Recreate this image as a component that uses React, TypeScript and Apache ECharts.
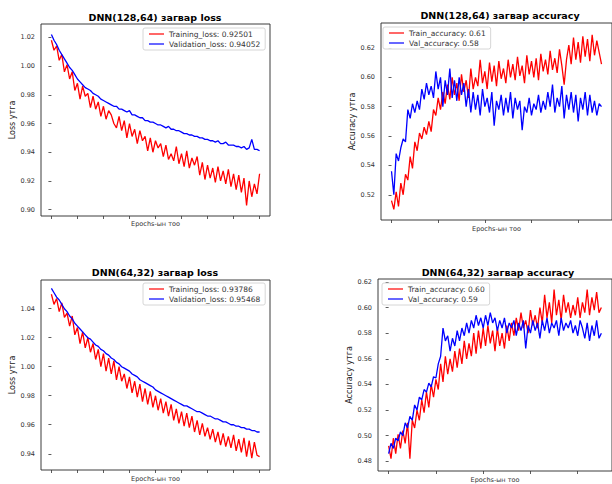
import React, { useEffect, useRef } from "react";
import * as echarts from "echarts";

// ---- Data ----
const trainLoss128 = [
  1.018, 1.011, 1.014, 1.004, 1.008, 0.996, 1.001, 0.991, 0.996, 0.983,
  0.988, 0.977, 0.986, 0.979, 0.981, 0.971, 0.979, 0.970, 0.975, 0.965,
  0.972, 0.963, 0.969, 0.966, 0.960, 0.957, 0.965, 0.955, 0.962, 0.950,
  0.960, 0.951, 0.956, 0.946, 0.955, 0.948, 0.951, 0.941, 0.950, 0.940,
  0.948, 0.943, 0.946, 0.937, 0.945, 0.935, 0.939, 0.934, 0.944, 0.932,
  0.939, 0.930, 0.941, 0.929, 0.936, 0.931, 0.937, 0.924, 0.933, 0.921,
  0.931, 0.922, 0.929, 0.919, 0.930, 0.920, 0.927, 0.918, 0.928, 0.916,
  0.925, 0.914, 0.924, 0.912, 0.922, 0.903, 0.920, 0.909, 0.918, 0.911,
  0.925,
];
const valLoss128 = [
  1.022, 1.018, 1.015, 1.011, 1.008, 1.005, 1.002, 0.999, 0.997, 0.994,
  0.991, 0.989, 0.987, 0.985, 0.984, 0.983, 0.981, 0.980, 0.979, 0.977,
  0.976, 0.975, 0.974, 0.973, 0.972, 0.972, 0.970, 0.970, 0.969, 0.968,
  0.969, 0.966, 0.966, 0.965, 0.964, 0.964, 0.962, 0.962, 0.961, 0.961,
  0.960, 0.959, 0.959, 0.958, 0.957, 0.958, 0.956, 0.956, 0.955, 0.955,
  0.954, 0.953, 0.953, 0.952, 0.952, 0.951, 0.951, 0.950, 0.950, 0.949,
  0.949, 0.948, 0.948, 0.947, 0.948, 0.946, 0.946, 0.947, 0.945, 0.945,
  0.945, 0.944, 0.944, 0.943, 0.944, 0.942, 0.943, 0.949, 0.942, 0.942,
  0.941,
];
const trainAcc128 = [
  0.516, 0.510, 0.522, 0.512, 0.528, 0.520, 0.534, 0.530, 0.546, 0.538,
  0.556, 0.550, 0.562, 0.558, 0.566, 0.561, 0.570, 0.563, 0.578, 0.574,
  0.586, 0.578, 0.590, 0.582, 0.595, 0.585, 0.600, 0.588, 0.596, 0.584,
  0.602, 0.590, 0.598, 0.586, 0.606, 0.592, 0.600, 0.594, 0.612, 0.596,
  0.604, 0.592, 0.610, 0.597, 0.608, 0.594, 0.611, 0.599, 0.606, 0.596,
  0.612, 0.600, 0.609, 0.598, 0.614, 0.601, 0.608, 0.596, 0.615, 0.602,
  0.611, 0.600, 0.613, 0.598, 0.616, 0.604, 0.612, 0.602, 0.618, 0.605,
  0.613, 0.603, 0.619, 0.608, 0.595, 0.612, 0.622, 0.609, 0.627, 0.612,
  0.624, 0.610, 0.628, 0.614, 0.626, 0.611, 0.629, 0.615, 0.625, 0.617,
  0.609,
];
const valAcc128 = [
  0.536, 0.520, 0.548, 0.543, 0.552, 0.558, 0.556, 0.578, 0.572, 0.582,
  0.576, 0.584, 0.578, 0.592, 0.585, 0.596, 0.588, 0.594, 0.586, 0.604,
  0.592, 0.600, 0.580, 0.598, 0.588, 0.606, 0.586, 0.598, 0.584, 0.600,
  0.588, 0.596, 0.580, 0.592, 0.576, 0.590, 0.578, 0.588, 0.574, 0.592,
  0.580, 0.586, 0.576, 0.590, 0.567, 0.584, 0.578, 0.588, 0.574, 0.586,
  0.576, 0.590, 0.572, 0.586, 0.578, 0.584, 0.564, 0.580, 0.576, 0.586,
  0.574, 0.582, 0.578, 0.588, 0.576, 0.584, 0.578, 0.590, 0.580, 0.595,
  0.576, 0.586, 0.580, 0.594, 0.572, 0.588, 0.578, 0.590, 0.576, 0.588,
  0.570, 0.586, 0.578, 0.590, 0.574, 0.588, 0.576, 0.584, 0.574, 0.582,
  0.580,
];
const trainLoss64 = [
  1.050, 1.043, 1.047, 1.038, 1.044, 1.034, 1.037, 1.028, 1.035, 1.022,
  1.027, 1.016, 1.024, 1.013, 1.020, 1.010, 1.016, 1.005, 1.012, 1.000,
  1.009, 0.997, 1.006, 0.995, 1.004, 0.991, 1.000, 0.990, 0.995, 0.985,
  0.993, 0.982, 0.990, 0.979, 0.988, 0.976, 0.985, 0.974, 0.983, 0.972,
  0.980, 0.970, 0.978, 0.968, 0.976, 0.966, 0.974, 0.963, 0.971, 0.961,
  0.969, 0.959, 0.968, 0.958, 0.966, 0.955, 0.963, 0.953, 0.961, 0.952,
  0.958, 0.950, 0.957, 0.948, 0.955, 0.946, 0.954, 0.945, 0.952, 0.944,
  0.953, 0.942, 0.950, 0.941, 0.951, 0.938, 0.949, 0.937, 0.948, 0.939,
  0.938,
];
const valLoss64 = [
  1.054, 1.051, 1.048, 1.046, 1.043, 1.040, 1.038, 1.035, 1.033, 1.030,
  1.028, 1.026, 1.024, 1.022, 1.020, 1.019, 1.017, 1.015, 1.014, 1.012,
  1.011, 1.009, 1.008, 1.006, 1.005, 1.003, 1.002, 1.000, 0.999, 0.998,
  0.997, 0.995, 0.994, 0.993, 0.991, 0.990, 0.989, 0.988, 0.987, 0.986,
  0.984, 0.983, 0.982, 0.981, 0.980, 0.979, 0.978, 0.977, 0.976, 0.975,
  0.974, 0.973, 0.973, 0.972, 0.971, 0.970, 0.969, 0.969, 0.968, 0.967,
  0.966, 0.966, 0.965, 0.964, 0.964, 0.963, 0.962, 0.962, 0.961, 0.960,
  0.960, 0.959, 0.959, 0.958, 0.958, 0.957, 0.957, 0.956, 0.956, 0.955,
  0.955,
];
const trainAcc64 = [
  0.492, 0.482, 0.498, 0.486, 0.501, 0.490, 0.504, 0.494, 0.510, 0.482,
  0.512, 0.506, 0.520, 0.512, 0.528, 0.518, 0.534, 0.522, 0.540, 0.530,
  0.544, 0.536, 0.556, 0.542, 0.562, 0.548, 0.560, 0.550, 0.566, 0.553,
  0.568, 0.556, 0.574, 0.560, 0.572, 0.562, 0.580, 0.564, 0.582, 0.568,
  0.584, 0.570, 0.586, 0.572, 0.582, 0.566, 0.584, 0.570, 0.580, 0.568,
  0.586, 0.574, 0.588, 0.578, 0.592, 0.582, 0.596, 0.584, 0.590, 0.580,
  0.598, 0.586, 0.594, 0.584, 0.600, 0.588, 0.610, 0.592, 0.604, 0.588,
  0.614, 0.594, 0.606, 0.590, 0.610, 0.596, 0.604, 0.592, 0.602, 0.594,
  0.608, 0.592, 0.604, 0.596, 0.614, 0.594, 0.608, 0.598, 0.612, 0.596,
  0.600,
];
const valAcc64 = [
  0.486, 0.494, 0.490, 0.498, 0.496, 0.503, 0.500, 0.510, 0.506, 0.515,
  0.512, 0.524, 0.520, 0.530, 0.528, 0.536, 0.534, 0.541, 0.538, 0.546,
  0.545, 0.556, 0.562, 0.584, 0.574, 0.578, 0.566, 0.576, 0.570, 0.582,
  0.574, 0.584, 0.578, 0.588, 0.580, 0.590, 0.584, 0.594, 0.586, 0.592,
  0.584, 0.594, 0.586, 0.596, 0.588, 0.592, 0.582, 0.590, 0.584, 0.592,
  0.580, 0.588, 0.584, 0.590, 0.578, 0.588, 0.582, 0.590, 0.568, 0.586,
  0.580, 0.590, 0.582, 0.588, 0.576, 0.590, 0.582, 0.592, 0.580, 0.588,
  0.584, 0.590, 0.578, 0.592, 0.582, 0.588, 0.584, 0.590, 0.580, 0.586,
  0.578, 0.590, 0.584, 0.576, 0.588, 0.574, 0.586, 0.578, 0.590, 0.576,
  0.580,
];

const lossTicksX = [0, 10, 20, 30, 40, 50, 60, 70, 80];
const accTicksX = [0, 20, 40, 60, 80];
const yTicks1 = [0.90, 0.92, 0.94, 0.96, 0.98, 1.00, 1.02];
const yTicks2 = [0.52, 0.54, 0.56, 0.58, 0.60, 0.62];
const yTicks3 = [0.94, 0.96, 0.98, 1.00, 1.02, 1.04];
const yTicks4 = [0.48, 0.50, 0.52, 0.54, 0.56, 0.58, 0.60, 0.62];

const titles = [
  "DNN(128,64) загвар loss",
  "DNN(128,64) загвар accuracy",
  "DNN(64,32) загвар loss",
  "DNN(64,32) загвар accuracy",
];
const legendNames = [
  ["Training_loss: 0.92501", "Validation_loss: 0.94052"],
  ["Train_accuracy: 0.61", "Val_accuracy: 0.58"],
  ["Training_loss: 0.93786", "Validation_loss: 0.95468"],
  ["Train_accuracy: 0.60", "Val_accuracy: 0.59"],
];
const yNames = ["Loss утга", "Accuracy утга", "Loss утга", "Accuracy утга"];
const xName = "Epochs-ын тоо";

const FONT = "DejaVu Sans";
const LINE_ICON = "path://M0,0 L30,0 L30,2.4 L0,2.4 Z";

export default function App() {
  const ref = useRef<HTMLDivElement>(null);
  useEffect(() => {
    if (!ref.current) return;
    const chart = echarts.init(ref.current, undefined, { renderer: "svg" });

    const panels = [
      { grid: { left: 41, top: 24, width: 229, height: 192 }, xmin: -4, xmax: 84, xt: lossTicksX, ymin: 0.8956, ymax: 1.0293, yt: yTicks1, red: trainLoss128, blue: valLoss128, title: [155, 17], legend: [143, 28], xGap: 4, yGap: 24 },
      { grid: { left: 381, top: 23, width: 238, height: 197 }, xmin: -4.5, xmax: 94.5, xt: accTicksX, ymin: 0.5028, ymax: 0.637, yt: yTicks2, red: trainAcc128, blue: valAcc128, title: [500, 15], legend: [383, 27], xGap: 5, yGap: 25 },
      { grid: { left: 41, top: 280, width: 229, height: 190 }, xmin: -4, xmax: 84, xt: lossTicksX, ymin: 0.9288, ymax: 1.0598, yt: yTicks3, red: trainLoss64, blue: valLoss64, title: [155, 272.7], legend: [143, 283], xGap: 5, yGap: 24 },
      { grid: { left: 378, top: 279, width: 240, height: 198 }, xmin: -4.5, xmax: 94.5, xt: accTicksX, ymin: 0.4724, ymax: 0.6223, yt: yTicks4, red: trainAcc64, blue: valAcc64, title: [498, 272.7], legend: [382, 283], xGap: 5, yGap: 25 },
    ];

    const option: any = {
      animation: false,
      backgroundColor: "#ffffff",
      grid: panels.map((p) => ({
        ...p.grid,
        show: true,
        borderColor: "#262626",
        borderWidth: 0.9,
        backgroundColor: "transparent",
      })),
      xAxis: panels.map((p, k) => ({
        type: "value",
        gridIndex: k,
        min: p.xmin,
        max: p.xmax,
        name: xName,
        nameLocation: "middle",
        nameGap: p.xGap,
        nameTextStyle: { fontFamily: FONT, fontSize: 6.5, color: "#333", verticalAlign: "top" },
        axisLine: { show: false },
        axisTick: { show: true, length: 3, customValues: p.xt, lineStyle: { color: "#333", width: 0.8 } },
        axisLabel: { show: false },
        splitLine: { show: false },
      })),
      yAxis: panels.map((p, k) => ({
        type: "value",
        gridIndex: k,
        min: p.ymin,
        max: p.ymax,
        name: yNames[k],
        nameLocation: "middle",
        nameGap: p.yGap,
        nameRotate: 90,
        nameTextStyle: { fontFamily: FONT, fontSize: 8, color: "#222" },
        axisLine: { show: false },
        axisTick: { show: true, length: 3, customValues: p.yt, lineStyle: { color: "#333", width: 0.8 } },
        axisLabel: {
          show: true,
          customValues: p.yt,
          margin: 6,
          fontFamily: FONT,
          fontSize: 6.5,
          color: "#333",
          formatter: (v: number) => v.toFixed(2),
        },
        splitLine: { show: false },
      })),
      legend: panels.map((p, k) => ({
        data: legendNames[k],
        orient: "vertical",
        left: p.legend[0],
        top: p.legend[1],
        icon: LINE_ICON,
        itemWidth: 15,
        itemHeight: 10,
        itemGap: 2,
        padding: [2, 5, 2, 6],
        borderColor: "#cccccc",
        borderWidth: 0.8,
        borderRadius: 2,
        backgroundColor: "rgba(255,255,255,0.85)",
        selectedMode: false,
        textStyle: { fontFamily: FONT, fontSize: 7.5, color: "#333" },
      })),
      series: panels.flatMap((p, k) => [
        {
          type: "line",
          name: legendNames[k][0],
          xAxisIndex: k,
          yAxisIndex: k,
          data: p.red.map((v, i) => [i, v]),
          symbol: "none",
          lineStyle: { color: "#ff0000", width: 1.3 },
          itemStyle: { color: "#ff0000" },
        },
        {
          type: "line",
          name: legendNames[k][1],
          xAxisIndex: k,
          yAxisIndex: k,
          data: p.blue.map((v, i) => [i, v]),
          symbol: "none",
          lineStyle: { color: "#0000ff", width: 1.3 },
          itemStyle: { color: "#0000ff" },
        },
      ]),
      graphic: panels.map((p, k) => ({
        type: "text",
        x: p.title[0],
        y: p.title[1],
        style: {
          text: titles[k],
          fill: "#000",
          font: `bold 9.5px "${FONT}"`,
          align: "center",
          verticalAlign: "middle",
        },
      })),
    };
    chart.setOption(option);
    return () => chart.dispose();
  }, []);

  return (
    <div
      ref={ref}
      style={{ position: "absolute", left: 0, top: 0, width: 612, height: 484, background: "#fff", overflow: "hidden" }}
    />
  );
}
